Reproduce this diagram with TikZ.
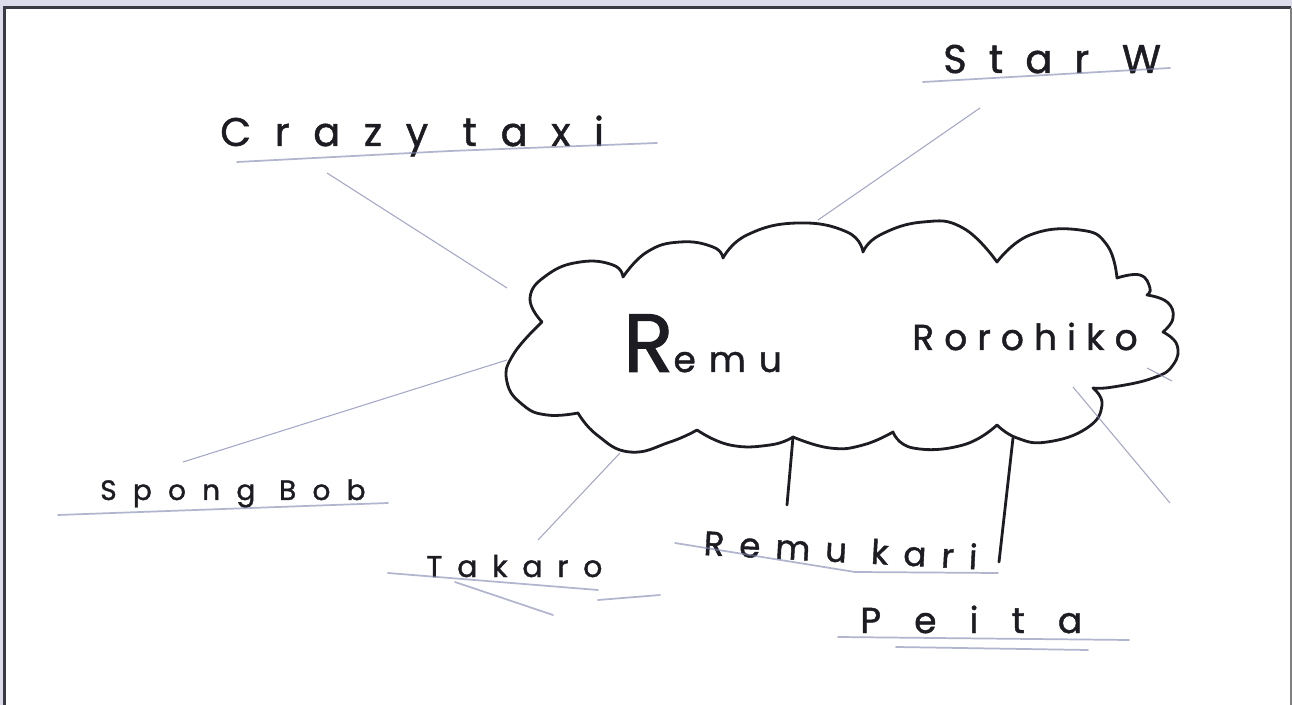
\documentclass[tikz,border=0pt]{standalone}
\usepackage{fontspec}
\newfontfamily\hand[FakeBold=1.2]{Poppins}
\newcommand{\hsz}[2]{\hand\fontsize{#1}{#1}\selectfont\addfontfeature{LetterSpace=#2}}
\definecolor{bgl}{HTML}{DDDCEA}
\definecolor{ink}{HTML}{1C1C22}
\definecolor{pen}{HTML}{7E84AE}
\definecolor{framec}{HTML}{3A3A42}
\begin{document}
\begin{tikzpicture}[x=0.75pt,y=-0.75pt,
  inkline/.style={draw=ink, line width=2.1pt, line cap=round, line join=round},
  thinline/.style={draw=pen, line width=0.8pt, opacity=0.7},
  uline/.style={draw=pen, line width=1.3pt, opacity=0.6, line cap=round},
  lbl/.style={inner sep=0pt, text=ink}]
\useasboundingbox (0,0) rectangle (1292,705);
\fill[bgl] (0,0) rectangle (1292,705);
\fill[white] (5,8) rectangle (1291,705);
\draw[framec, line width=2pt] (4.5,705) -- (4.5,7.5) -- (1291,7.5);
\draw[gray, line width=1.2pt] (1291,8) -- (1291,705);

% cloud
\draw[inkline] plot[smooth,tension=0.8] coordinates {(542,322) (530,298) (547,275) (580,262) (613,265) (623,277)}
 -- plot[smooth,tension=0.8] coordinates {(623,277) (647,252) (680,242) (713,247) (723,258)}
 -- plot[smooth,tension=0.8] coordinates {(723,258) (747,235) (797,223) (847,232) (863,252)}
 -- plot[smooth,tension=0.8] coordinates {(863,252) (880,235) (923,222) (963,228) (997,262)}
 -- plot[smooth,tension=0.8] coordinates {(997,262) (1030,235) (1080,230) (1107,245) (1117,278)}
 -- plot[smooth,tension=0.8] coordinates {(1117,278) (1140,275) (1150,288) (1147,295)}
 -- plot[smooth,tension=0.8] coordinates {(1147,295) (1167,302) (1173,318) (1163,332)}
 -- plot[smooth,tension=0.8] coordinates {(1163,332) (1177,345) (1173,365) (1153,378) (1113,387) (1093,388)}
 -- plot[smooth,tension=0.8] coordinates {(1093,388) (1102,405) (1087,428) (1047,442) (1017,438) (997,425)}
 -- plot[smooth,tension=0.8] coordinates {(997,425) (963,445) (913,448) (893,432)}
 -- plot[smooth,tension=0.8] coordinates {(893,432) (863,445) (830,448) (793,437)}
 -- plot[smooth,tension=0.8] coordinates {(793,437) (770,445) (730,445) (697,430)}
 -- plot[smooth,tension=0.8] coordinates {(697,430) (670,442) (630,452) (597,435) (578,413)}
 -- plot[smooth,tension=0.8] coordinates {(578,413) (547,415) (523,405) (507,382) (513,355) (542,322)}
 -- cycle;

% labels
\node[lbl, anchor=base west, font=\hsz{62pt}{0}] (remu) at (623,372) {R{\hsz{27pt}{36}emu}};
\node[lbl, anchor=base west, font=\hsz{27pt}{28}] (roro) at (912,350) {Rorohiko};
\node[lbl, anchor=base west, font=\hsz{30pt}{59}] (crazy) at (220,146) {Crazy taxi};
\node[lbl, anchor=base west, font=\hsz{30pt}{55}] (star) at (943,73) {Star W};
\node[lbl, anchor=base west, font=\hsz{21pt}{58}] (spong) at (100,500) {Spong Bob};
\node[lbl, anchor=base west, font=\hsz{22.5pt}{49}] (takaro) at (426,577) {Takaro};
\node[lbl, anchor=base west, font=\hsz{25.5pt}{44}, rotate=-3] (remukari) at (703,555) {Remu kari};
\node[lbl, anchor=base west, font=\hsz{27pt}{92}] (peita) at (860,633) {Peita};

% connector ends
\coordinate (cCrazy) at (507,288);
\coordinate (lCrazy) at (327,173);
\coordinate (cStar) at (818,220);
\coordinate (lStar) at (980,108);
\coordinate (cSpong) at (507,360);
\coordinate (lSpong) at (183,462);
\coordinate (cTak) at (620,453);
\coordinate (lTak) at (538,540);
\coordinate (cKari) at (793,437);
\coordinate (lKari) at (787,505);
\coordinate (cPeita) at (1013,438);
\coordinate (lPeita) at (999,562);
\coordinate (cRight) at (1073,387);
\coordinate (lRight) at (1170,503);
\coordinate (cStub) at (1147,368);
\coordinate (lStub) at (1172,381);

\draw[thinline] (lCrazy) -- (cCrazy);
\draw[thinline] (lStar) -- (cStar);
\draw[thinline] (lSpong) -- (cSpong);
\draw[thinline] (lTak) -- (cTak);
\draw[thinline] (cRight) -- (lRight);
\draw[thinline] (cStub) -- (lStub);
\draw[inkline] (cKari) -- (lKari);
\draw[inkline] (cPeita) -- (lPeita);

% underlines
\draw[uline] (237,162) -- (450,151) -- (657,143);
\draw[uline] (923,82) -- (1170,68);
\draw[uline] (58,515) -- (388,503);
\draw[uline] (388,573) -- (598,590);
\draw[uline] (598,600) -- (660,595);
\draw[uline] (455,582) -- (553,615);
\draw[uline] (675,543) -- (855,572) -- (998,573);
\draw[uline] (838,637) -- (1129,640);
\draw[uline] (896,647) -- (1088,650);
\end{tikzpicture}
\end{document}
